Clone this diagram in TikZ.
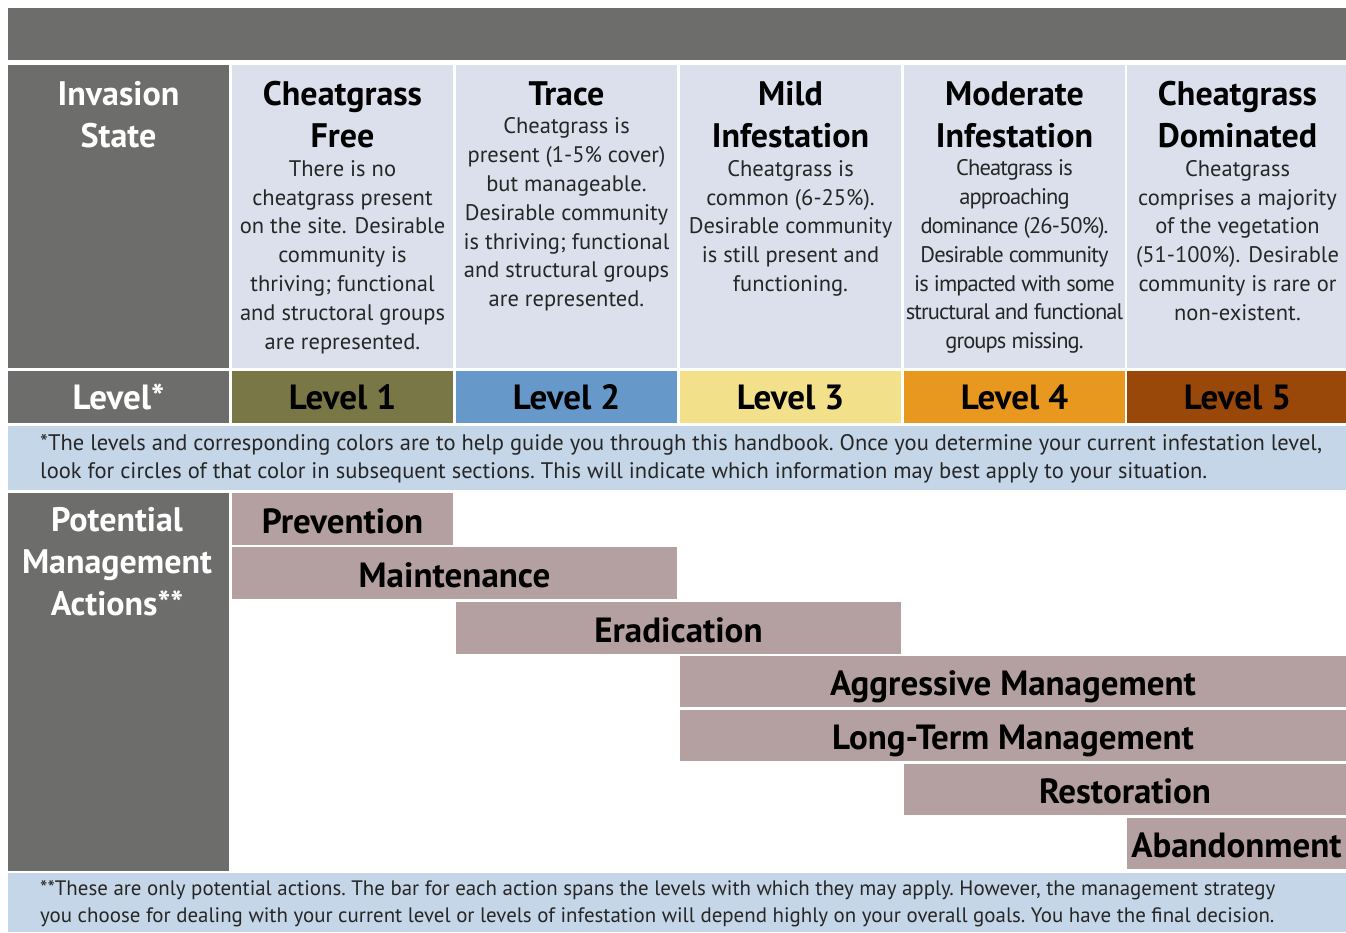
\documentclass[tikz,border=0pt]{standalone}
\usepackage{fontspec}
\setmainfont{PT Sans}
\usetikzlibrary{positioning}
\definecolor{slate}{HTML}{6D6E6C}
\definecolor{pale}{HTML}{DBE0EC}
\definecolor{note}{HTML}{C5D6E8}
\definecolor{bar}{HTML}{B4A0A1}
\definecolor{lvone}{HTML}{7A7747}
\definecolor{lvtwo}{HTML}{6699C9}
\definecolor{lvthree}{HTML}{F2E08B}
\definecolor{lvfour}{HTML}{E8981E}
\definecolor{lvfive}{HTML}{9A470A}
\tikzset{
  box/.style={rectangle, inner sep=0pt, outer sep=0pt, anchor=north west},
  head/.style={font=\fontsize{34}{42}\selectfont\bfseries, align=center, inner sep=0pt, anchor=north},
  body/.style={font=\fontsize{22.5}{28.8}\selectfont, align=center, inner sep=0pt, text=black!85},
  side/.style={head, text=white},
  tag/.style={font=\fontsize{35}{40}\selectfont\bfseries},
  act/.style={box, fill=bar, tag, text height=28pt, text depth=0pt},
  foot/.style={font=\fontsize{22.5}{28}\selectfont\frenchspacing, align=left, inner sep=0pt, anchor=north west, text=black!85}
}
\begin{document}
\begin{tikzpicture}[x=1pt,y=-1pt]
  \useasboundingbox (0,0) rectangle (1346,932);
  % title band
  \node[box, fill=slate, minimum width=1338, minimum height=52] (band) at (8,8) {};
  % left column
  \node[box, fill=slate, minimum width=221, minimum height=303] (state) at (8,65) {};
  \node[box, fill=slate, minimum width=221, minimum height=52] (lvl) at (8,371) {};
  \node[box, fill=slate, minimum width=221, minimum height=378] (acts) at (8,493) {};
  \node[side] (statetxt) at (118.5,81) {Invasion\\State};
  \node[tag, text=white] at (lvl.center) {Level*};
  \node[side] (actstxt) at (117,507) {Potential\\Management\\Actions**};
  % invasion states
  \foreach \n/\xx in {1/232,2/456,3/680,4/904,5/1127}
    \node[box, fill=pale, minimum width=221, minimum height=303] (hd\n) at (\xx,65) {};
  \node[head] (t1) at ([yshift=-16pt]hd1.north) {Cheatgrass\\Free};
  \node[body, below=12pt of t1] {There is no\\cheatgrass present\\on the site. Desirable\\community is\\thriving; functional\\and structoral groups\\are represented.};
  \node[head] (t2) at ([yshift=-16pt]hd2.north) {Trace};
  \node[body, below=12pt of t2] {Cheatgrass is\\present (1-5\% cover)\\but manageable.\\Desirable community\\is thriving; functional\\and structural groups\\are represented.};
  \node[head] (t3) at ([yshift=-16pt]hd3.north) {Mild\\Infestation};
  \node[body, below=12pt of t3] {Cheatgrass is\\common (6-25\%).\\Desirable community\\is still present and\\functioning.};
  \node[head] (t4) at ([yshift=-16pt]hd4.north) {Moderate\\Infestation};
  \node[body, below=12pt of t4, font=\fontsize{22.5}{28.8}\selectfont\addfontfeatures{LetterSpace=-4}] {Cheatgrass is\\approaching\\dominance (26-50\%).\\Desirable community\\is impacted with some\\structural and functional\\groups missing.};
  \node[head] (t5) at ([yshift=-16pt]hd5.north) {Cheatgrass\\Dominated};
  \node[body, below=12pt of t5] {Cheatgrass\\comprises a majority\\of the vegetation\\(51-100\%). Desirable\\community is rare or\\non-existent.};
  % levels
  \foreach \n/\xx/\c in {1/232/lvone,2/456/lvtwo,3/680/lvthree,4/904/lvfour,5/1127/lvfive}{
    \node[box, fill=\c, minimum width=221, minimum height=52] (lv\n) at (\xx,371) {};
    \node[tag] at (lv\n.center) {Level \n};
  }
  \node[box, fill=note, minimum width=1338, minimum height=64] (note1) at (8,426) {};
  \node[foot] at (40,434) {*The levels and corresponding colors are to help guide you through this handbook. Once you determine your current infestation level,\\look for circles of that color in subsequent sections. This will indicate which information may best apply to your situation.};
  % management actions
  \node[act, minimum width=221, minimum height=52] (prev) at (232,493) {Prevention};
  \node[act, minimum width=445, minimum height=52] (maint) at (232,547) {Maintenance};
  \node[act, minimum width=445, minimum height=52] (erad) at (456,602) {Eradication};
  \node[act, minimum width=666, minimum height=51] (aggr) at (680,656) {Aggressive Management};
  \node[act, minimum width=666, minimum height=51] (long) at (680,710) {Long-Term Management};
  \node[act, minimum width=442, minimum height=51] (rest) at (904,764) {Restoration};
  \node[act, minimum width=219, minimum height=51] (aban) at (1127,818) {Abandonment};
  \node[box, fill=note, minimum width=1338, minimum height=59] (note2) at (8,873) {};
  \node[foot, font=\fontsize{20.9}{27}\selectfont\frenchspacing] at (40,880) {**These are only potential actions. The bar for each action spans the levels with which they may apply. However, the management strategy\\you choose for dealing with your current level or levels of infestation will depend highly on your overall goals. You have the final decision.};
\end{tikzpicture}
\end{document}
